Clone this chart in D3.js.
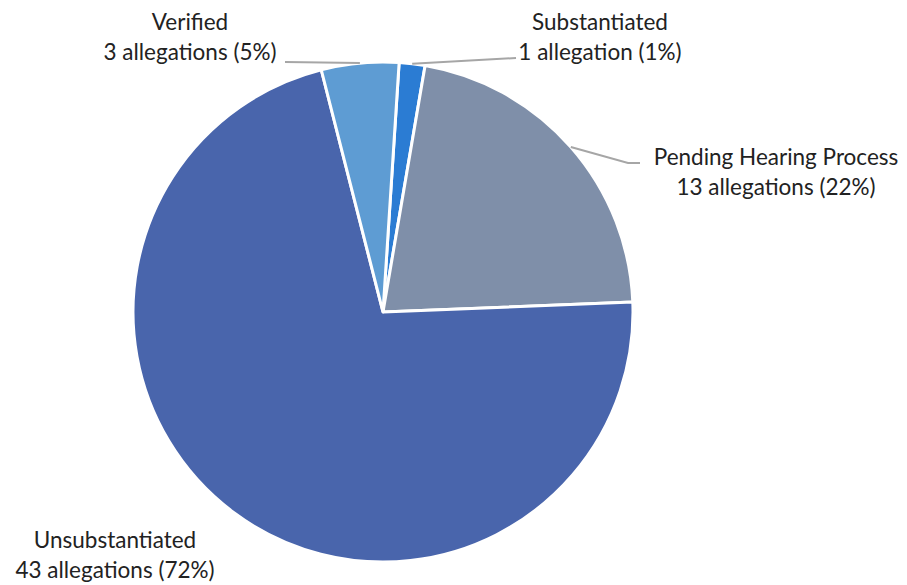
<!DOCTYPE html>
<html>
<head>
<meta charset="utf-8">
<script src="https://cdn.jsdelivr.net/npm/d3@7"></script>
<style>
  body { margin: 0; background: #fff; }
  text { font-family: Lato, "Noto Sans", sans-serif; fill: #222; }
</style>
</head>
<body>
<div id="pie-chart"></div>
<script>
// data
let categories = ["Substantiated", "Pending Hearing Process", "Unsubstantiated", "Verified"];
let counts = [1, 13, 43, 3];
let percents = ["1%", "22%", "72%", "5%"];
let colors = ["#2b7cd3", "#7f8fa9", "#4965ac", "#5e9cd3"];

// label layout (centre of the two text lines) and leader line elbows
let labelPos = [
  {x: 600, y: 37, line: [[516, 58]]},
  {x: 776, y: 172, line: [[628, 163], [640, 163]]},
  {x: 115, y: 555, line: null},
  {x: 190, y: 37, line: [[285, 62]]}
];

let width = 907, height = 585,
    cx = 383, cy = 312, radius = 250;

let svg = d3.select("#pie-chart").append("svg")
    .attr("width", width)
    .attr("height", height);

let g = svg.append("g")
    .attr("transform", "translate(" + cx + "," + cy + ")");

let pie = d3.pie()
    .sort(null)
    .value(function(d) { return d; })
    .startAngle(3.7 * Math.PI / 180)
    .endAngle(3.7 * Math.PI / 180 + 2 * Math.PI);

let arc = d3.arc().innerRadius(0).outerRadius(radius);

let arcs = pie(counts);

g.selectAll(".slice")
    .data(arcs)
    .enter()
    .append("path")
    .attr("class", "slice")
    .attr("d", arc)
    .attr("fill", function(d, i) { return colors[i]; })
    .attr("stroke", "#fff")
    .attr("stroke-width", 3)
    .attr("stroke-linejoin", "round");

/* leader lines */
arcs.forEach(function(d, i) {
  let lp = labelPos[i];
  if (!lp.line) return;
  let mid = (d.startAngle + d.endAngle) / 2;
  let pts = [[cx + radius * Math.sin(mid), cy - radius * Math.cos(mid)]].concat(lp.line);
  svg.append("path")
      .attr("d", d3.line()(pts))
      .attr("fill", "none")
      .attr("stroke", "#a6a6a6")
      .attr("stroke-width", 2);
});

/* labels */
arcs.forEach(function(d, i) {
  let lp = labelPos[i];
  let t = svg.append("text")
      .attr("text-anchor", "middle")
      .attr("font-size", 22.5);
  t.append("tspan")
      .attr("x", lp.x).attr("y", lp.y - 7)
      .text(categories[i]);
  t.append("tspan")
      .attr("x", lp.x).attr("y", lp.y + 23)
      .text(counts[i] + (counts[i] === 1 ? " allegation" : " allegations") + " (" + percents[i] + ")");
});
</script>
</body>
</html>
